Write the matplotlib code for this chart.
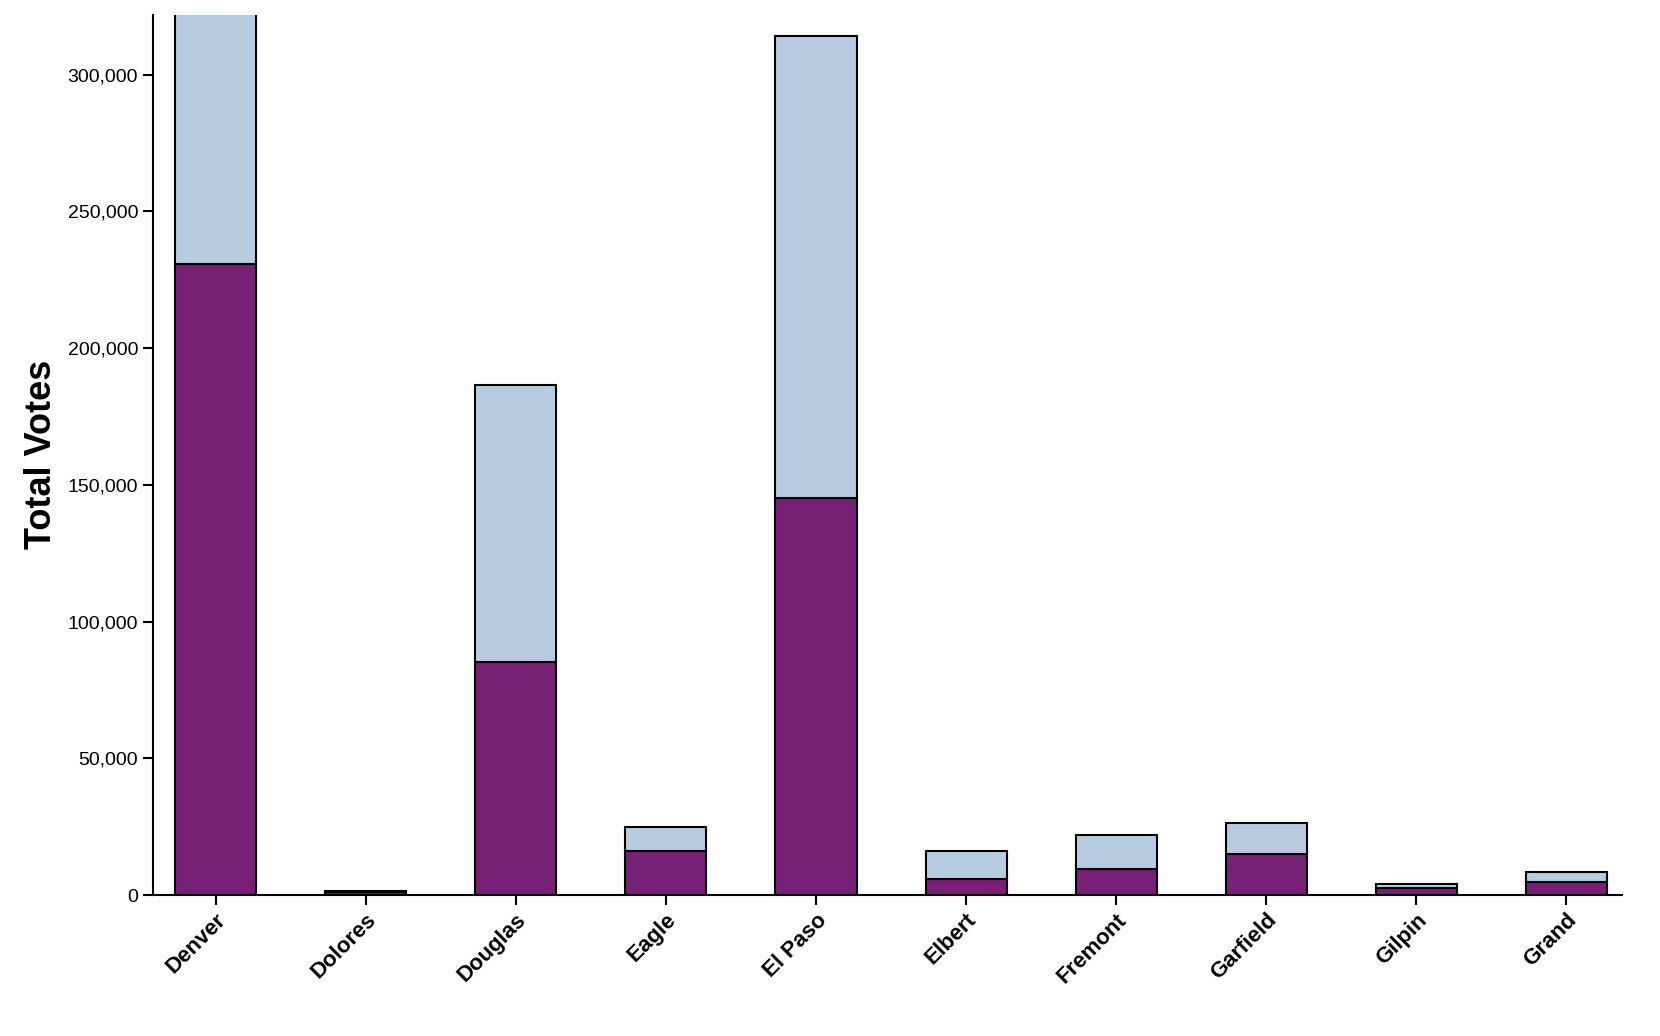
import matplotlib.pyplot as plt
from matplotlib.ticker import FuncFormatter

plt.rcParams["font.family"] = "Liberation Sans"

counties = ["Denver", "Dolores", "Douglas", "Eagle", "El Paso", "Elbert",
            "Fremont", "Garfield", "Gilpin", "Grand"]
purple_votes = [230600, 1000, 85300, 16300, 145300, 5800, 9700, 15100, 2700, 4650]
total_votes = [330000, 1500, 186400, 24800, 314300, 16300, 22100, 26400, 3900, 8500]
light_votes = [t - p for t, p in zip(total_votes, purple_votes)]

fig = plt.figure(figsize=(16.6, 10.36), dpi=100)
ax = fig.add_axes([0.092, 0.136, 0.885, 0.85])

x = range(len(counties))
ax.bar(x, purple_votes, width=0.54, color="#762175", edgecolor="black", linewidth=1.5)
ax.bar(x, light_votes, bottom=purple_votes, width=0.54, color="#b8cce1",
       edgecolor="black", linewidth=1.5)

ax.set_xlim(-0.42, 9.37)
ax.set_ylim(0, 322000)
ax.set_xticks(list(x))
ax.set_xticklabels(counties, rotation=45, ha="right", rotation_mode="anchor",
                   fontsize=16, fontweight="bold")
ax.set_yticks(range(0, 300001, 50000))
ax.yaxis.set_major_formatter(FuncFormatter(lambda v, _: f"{int(v):,}"))
ax.tick_params(axis="y", labelsize=14)
ax.tick_params(length=7, width=1.5)
ax.set_ylabel("Total Votes", fontsize=26, fontweight="bold", labelpad=6)

for s in ["top", "right"]:
    ax.spines[s].set_visible(False)
for s in ["left", "bottom"]:
    ax.spines[s].set_linewidth(1.5)

fig.savefig("out.png", dpi=100)
